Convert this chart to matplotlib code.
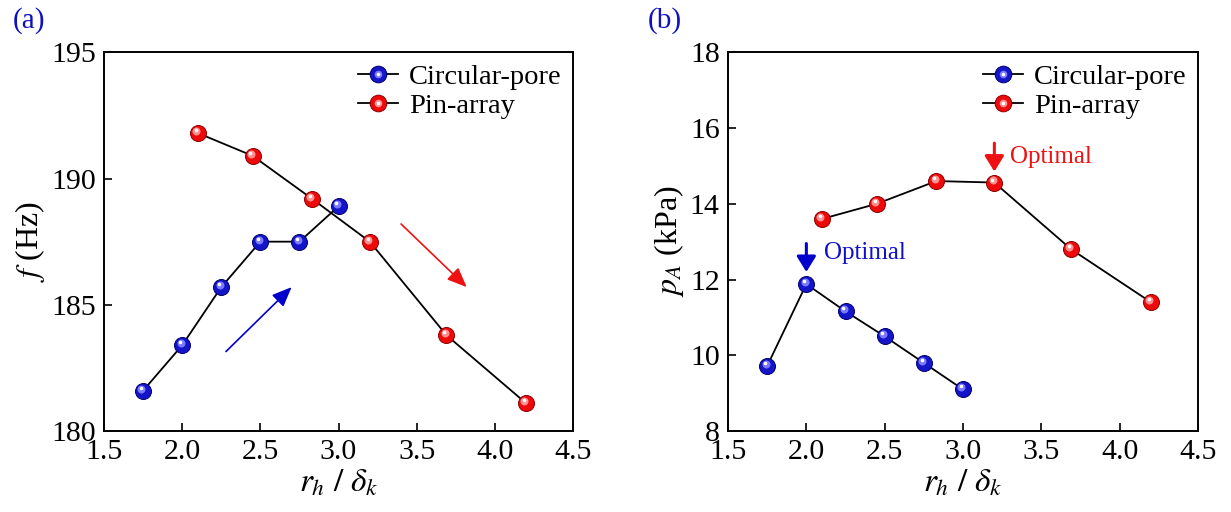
import matplotlib
matplotlib.use("Agg")
import matplotlib.pyplot as plt
import matplotlib.transforms as mtransforms
from matplotlib.lines import Line2D
from matplotlib.legend_handler import HandlerTuple

# datos
x_circ = [1.75, 2.0, 2.25, 2.5, 2.75, 3.0]
x_pin = [2.1, 2.45, 2.83, 3.2, 3.69, 4.2]
f_circ = [181.6, 183.4, 185.7, 187.5, 187.5, 188.9]
f_pin = [191.8, 190.9, 189.2, 187.5, 183.8, 181.1]
p_circ = [9.72, 11.88, 11.16, 10.5, 9.8, 9.1]
p_pin = [13.6, 14.0, 14.6, 14.56, 12.8, 11.4]

xticks = [1.5, 2.0, 2.5, 3.0, 3.5, 4.0, 4.5]
yticks_a = [180, 185, 190, 195]
yticks_b = [8, 10, 12, 14, 16, 18]

plt.rcParams.update({'font.family': 'Liberation Serif', 'mathtext.fontset': 'stix',
                     'font.size': 20})

BLUE = ('#1414c8', '#00006e', '#7a7aff')
RED = ('#ee0a0a', '#8a0000', '#ff9090')


def esferas(ax, fig, x, y, cols, ms=11.5):
    base, dark, light = cols
    ax.plot(x, y, '-', color='black', lw=1.3, zorder=2)
    ax.plot(x, y, 'o', ls='none', ms=ms, mfc=base, mec=dark, mew=0.7, zorder=3)
    # brillo
    off1 = mtransforms.ScaledTranslation(-1.2 / 72, 1.5 / 72, fig.dpi_scale_trans)
    off2 = mtransforms.ScaledTranslation(-1.6 / 72, 2.2 / 72, fig.dpi_scale_trans)
    ax.plot(x, y, 'o', ls='none', ms=ms * 0.5, mfc=light, mec='none',
            transform=ax.transData + off1, zorder=4)
    ax.plot(x, y, 'o', ls='none', ms=ms * 0.22, mfc='white', mec='none',
            transform=ax.transData + off2, zorder=5)


def leyenda(ax):
    hs = []
    for cols in (BLUE, RED):
        h1 = Line2D([], [], color='black', lw=1.3, marker='o', ms=12,
                    mfc=cols[0], mec=cols[1], mew=0.7)
        h2 = Line2D([], [], ls='none', marker='o', ms=5.5, mfc=cols[2], mec='none')
        h3 = Line2D([], [], ls='none', marker='o', ms=2.6, mfc='white', mec='none')
        hs.append((h1, h2, h3))
    ax.legend(hs, ['Circular-pore', 'Pin-array'], loc='upper right', frameon=False,
              handler_map={tuple: HandlerTuple(ndivide=1, pad=0)},
              fontsize=20.5, handlelength=1.4, handletextpad=0.4,
              labelspacing=0.12, borderaxespad=0.1, borderpad=0.3)


def estilo(ax):
    ax.set_xlim(1.5, 4.5)
    ax.set_xticks(xticks)
    ax.set_xticklabels([f'{v:.1f}' for v in xticks])
    ax.tick_params(direction='in', length=5.5, width=1.2, labelsize=21.5, pad=6)
    for s in ax.spines.values():
        s.set_linewidth(1.4)
    ax.set_xlabel(r'$r_h\ /\ \delta_k$', fontsize=24, labelpad=2)


fig = plt.figure(figsize=(12.31, 5.12), dpi=100)
ax1 = fig.add_axes([0.0845, 0.158, 0.381, 0.740])
ax2 = fig.add_axes([0.5914, 0.158, 0.3818, 0.740])

flecha_a = dict(arrowstyle='-|>,head_length=0.6,head_width=0.25', lw=1.2, mutation_scale=20)
flecha_b = dict(arrowstyle='-|>,head_length=0.47,head_width=0.29', lw=2.2, mutation_scale=20)

# (a)
esferas(ax1, fig, x_circ, f_circ, BLUE)
esferas(ax1, fig, x_pin, f_pin, RED)
estilo(ax1)
ax1.set_ylim(180, 195)
ax1.set_yticks(yticks_a)
ax1.set_ylabel(r'$f$ (Hz)', fontsize=23, labelpad=3)
leyenda(ax1)
ax1.annotate('', xy=(2.70, 185.7), xytext=(2.28, 183.15),
             arrowprops=dict(color='#0000cc', shrinkA=0, shrinkB=0, **flecha_a))
ax1.annotate('', xy=(3.82, 185.7), xytext=(3.40, 188.2),
             arrowprops=dict(color='#ee1111', shrinkA=0, shrinkB=0, **flecha_a))
fig.text(0.010, 0.96, '(a)', color='#1010c0', fontsize=21, va='center')

# (b)
esferas(ax2, fig, x_circ, p_circ, BLUE)
esferas(ax2, fig, x_pin, p_pin, RED)
estilo(ax2)
ax2.set_ylim(8, 18)
ax2.set_yticks(yticks_b)
ax2.set_ylabel(r'$p_A$ (kPa)', fontsize=23, labelpad=3)
leyenda(ax2)
ax2.annotate('', xy=(2.0, 12.2), xytext=(2.0, 12.95),
             arrowprops=dict(color='#0000cc', shrinkA=0, shrinkB=0, **flecha_b))
ax2.text(2.115, 12.69, 'Optimal', color='#1010c8', fontsize=18, va='center')
ax2.annotate('', xy=(3.2, 14.85), xytext=(3.2, 15.6),
             arrowprops=dict(color='#ee1111', shrinkA=0, shrinkB=0, **flecha_b))
ax2.text(3.30, 15.23, 'Optimal', color='#ee1111', fontsize=18, va='center')
fig.text(0.526, 0.96, '(b)', color='#1010c0', fontsize=21, va='center')

fig.patch.set_facecolor('white')
fig.savefig('out.png', dpi=100, facecolor='white')
